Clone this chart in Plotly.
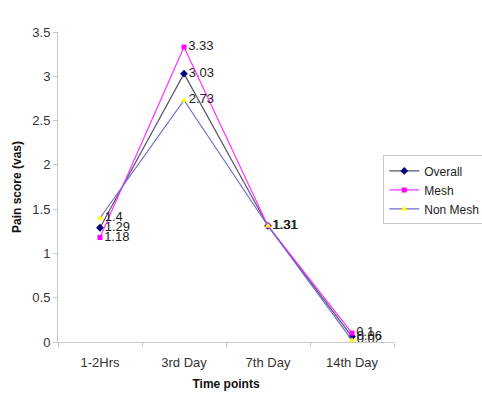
import plotly.graph_objects as go

categories = ["1-2Hrs", "3rd Day", "7th Day", "14th Day"]
overall = [1.29, 3.03, 1.31, 0.06]
mesh = [1.18, 3.33, 1.31, 0.1]
non_mesh = [1.4, 2.73, 1.31, 0.02]
y_ticks = [0, 0.5, 1, 1.5, 2, 2.5, 3, 3.5]
y_tick_labels = ["0", "0.5", "1", "1.5", "2", "2.5", "3", "3.5"]

FONT = "Liberation Sans, Arial, sans-serif"

series = [
    ("Overall", overall, "#56566a", "#000080", "diamond", 6),
    ("Mesh", mesh, "#ff33ff", "#ff00ff", "square", 5),
    ("Non Mesh", non_mesh, "#6b6bd0", "#ffff00", "triangle-up", 6),
]

fig = go.Figure()
for name, vals, lc, mc, sym, ms in series:
    fig.add_trace(go.Scatter(
        x=categories, y=vals, name=name,
        mode="lines+markers+text",
        text=[str(v) for v in vals],
        textposition="middle right",
        textfont=dict(family=FONT, size=13, color="#222222"),
        line=dict(color=lc, width=1.2),
        marker=dict(color=mc, symbol=sym, size=ms, line=dict(width=0)),
    ))

fig.update_layout(
    width=482, height=403,
    margin=dict(l=58, r=88, t=32, b=61, autoexpand=False),
    paper_bgcolor="white", plot_bgcolor="white",
    font=dict(family=FONT, size=13, color="#333333"),
    showlegend=True,
    legend=dict(
        x=0.968, y=0.602, xanchor="left", yanchor="top",
        bordercolor="#c8c8c8", borderwidth=1,
        font=dict(family=FONT, size=12, color="#222222"),
        itemwidth=30, tracegroupgap=0,
    ),
    xaxis=dict(
        title=dict(text="<b>Time points</b>", font=dict(size=12, color="#111111"), standoff=11),
        showgrid=False, showline=True, linecolor="#c8c8c8", linewidth=1,
        ticks="outside", tickson="boundaries", ticklen=4, tickcolor="#c8c8c8",
        ticklabelstandoff=8,
        tickfont=dict(size=13, color="#333333"),
        range=[-0.5, 3.5],
    ),
    yaxis=dict(
        title=dict(text="<b>Pain score (vas)</b>", font=dict(size=12, color="#111111"), standoff=8),
        range=[0, 3.5], tickvals=y_ticks, ticktext=y_tick_labels,
        showgrid=False, showline=True, linecolor="#c8c8c8", linewidth=1,
        ticks="outside", ticklen=4, tickcolor="#c8c8c8", zeroline=False,
        tickfont=dict(size=13, color="#333333"),
    ),
)

fig.write_html("out.html")
